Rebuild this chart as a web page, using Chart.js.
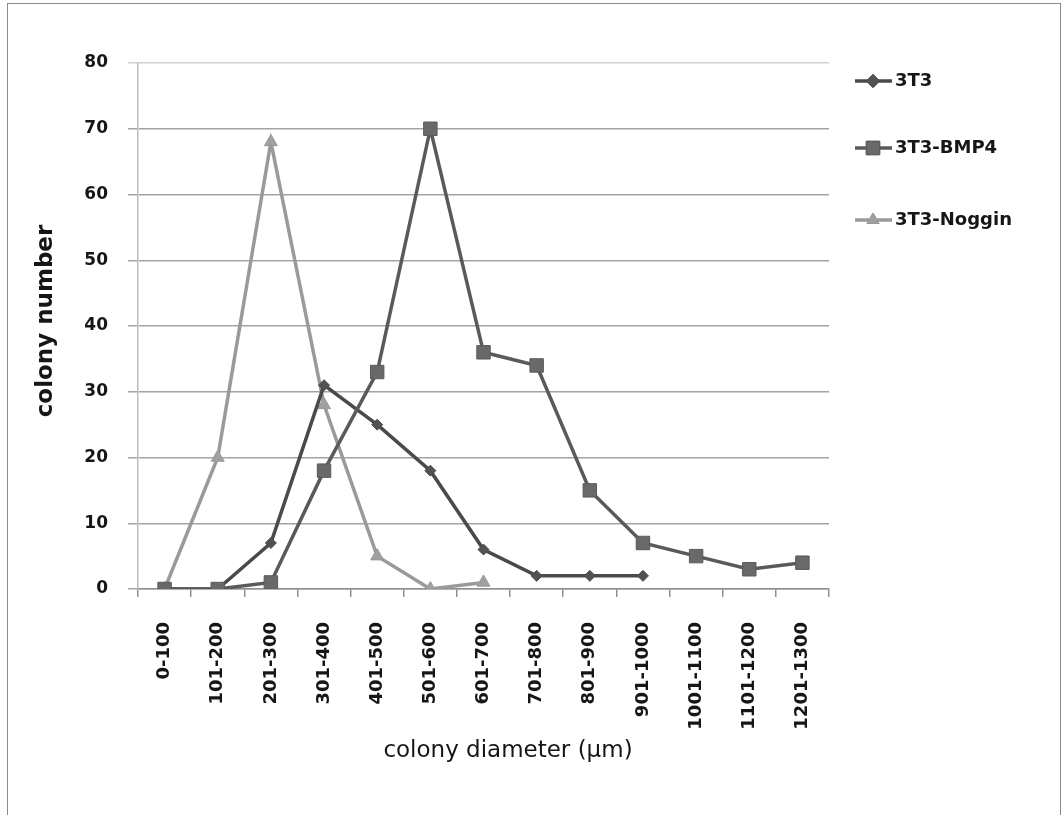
<!DOCTYPE html>
<html>
<head>
<meta charset="utf-8">
<script src="https://cdn.jsdelivr.net/npm/chart.js@4/dist/chart.umd.min.js"></script>
<style>
    html, body { margin: 0; padding: 0; background: #fff; }
    #wrap { position: relative; width: 1061px; height: 815px; }
    #frame {
        position: absolute; left: 7px; top: 3px; width: 1052px; height: 820px;
        border: 1px solid #8a8a8a; border-bottom: none; pointer-events: none;
    }
</style>
</head>
<body>
<div id="wrap">
    <canvas id="chart" width="1061" height="815"></canvas>
    <div id="frame"></div>
</div>
<script>
// DATA
let labels = ["0-100", "101-200", "201-300", "301-400", "401-500", "501-600", "601-700",
    "701-800", "801-900", "901-1000", "1001-1100", "1101-1200", "1201-1300"];
let t3 = [0, 0, 7, 31, 25, 18, 6, 2, 2, 2, null, null, null];
let bmp4 = [0, 0, 1, 18, 33, 70, 36, 34, 15, 7, 5, 3, 4];
let noggin = [0, 20, 68, 28, 5, 0, 1, null, null, null, null, null, null];
let yTicks = [0, 10, 20, 30, 40, 50, 60, 70, 80];

let xTitle = "colony diameter (µm)";
let yTitle = "colony number";

// series looks
let series = [
    { label: "3T3", data: t3, color: "#4a4a4a", fill: "#525252", style: "rectRot", r: 5.5, lr: 6.5, order: 1 },
    { label: "3T3-BMP4", data: bmp4, color: "#5a5a5a", fill: "#696969", style: "rect", r: 9.5, lr: 9.5, order: 0 },
    { label: "3T3-Noggin", data: noggin, color: "#9a9a9a", fill: "#a0a0a0", style: "triangle", r: 7.5, lr: 7, order: 2 }
];

// LEGEND + AXIS TITLES
let extras = {
    id: "extras",
    afterDraw(chart) {
        let ctx = chart.ctx;
        ctx.save();

        // y title
        ctx.fillStyle = "#161616";
        ctx.font = "bold 23px 'DejaVu Sans'";
        ctx.textAlign = "center";
        ctx.textBaseline = "middle";
        ctx.translate(46, 321);
        ctx.rotate(-Math.PI / 2);
        ctx.fillText(yTitle, 0, 0);
        ctx.setTransform(1, 0, 0, 1, 0, 0);

        // x title
        ctx.font = "23px 'DejaVu Sans'";
        ctx.fillText(xTitle, 508, 751);

        // legend
        let ys = [81, 148, 220];
        series.forEach((s, i) => {
            let y = ys[i];
            ctx.strokeStyle = s.color;
            ctx.lineWidth = 3.5;
            ctx.beginPath();
            ctx.moveTo(855, y);
            ctx.lineTo(892, y);
            ctx.stroke();
            ctx.fillStyle = s.fill;
            ctx.lineWidth = 1;
            Chart.helpers.drawPoint(ctx, { pointStyle: s.style, radius: s.lr, rotation: 0, borderWidth: 1 }, 873, y);
            ctx.fill();
            ctx.stroke();
            ctx.fillStyle = "#161616";
            ctx.font = "bold 18px 'DejaVu Sans'";
            ctx.textAlign = "left";
            ctx.fillText(s.label, 895, y);
        });
        ctx.restore();
    }
};

new Chart(document.getElementById("chart"), {
    type: "line",
    data: {
        labels,
        datasets: series.map(s => ({
            label: s.label,
            data: s.data,
            order: s.order,
            borderColor: s.color,
            borderWidth: 3.5,
            backgroundColor: s.fill,
            pointStyle: s.style,
            pointRadius: s.r,
            pointBorderColor: s.color,
            pointBorderWidth: 1,
            tension: 0,
            spanGaps: false
        }))
    },
    options: {
        responsive: false,
        animation: false,
        layout: { padding: { left: 0, top: 63, right: 232, bottom: 0 } },
        plugins: {
            legend: { display: false },
            tooltip: { enabled: false }
        },
        scales: {
            x: {
                offset: true,
                grid: { offset: true, drawOnChartArea: false, drawTicks: true, tickLength: 8, color: "#8f8f8f", lineWidth: 1.5 },
                border: { color: "#8f8f8f", width: 1.5 },
                ticks: {
                    autoSkip: false, minRotation: 90, maxRotation: 90,
                    padding: 25, color: "#161616",
                    font: { family: "DejaVu Sans", size: 18, weight: "bold" }
                },
                afterFit(scale) { scale.height = 226; }
            },
            y: {
                min: 0, max: 80,
                grid: {
                    tickLength: 10,
                    color: ctx => ctx.tick && ctx.tick.value === 80 ? "#cfcfcf" : "#a3a3a3",
                    lineWidth: 1.5
                },
                border: { color: "#bdbdbd", width: 1.5 },
                afterBuildTicks(scale) { scale.ticks = yTicks.map(v => ({ value: v })); },
                ticks: {
                    padding: 20, color: "#161616",
                    font: { family: "DejaVu Sans", size: 17, weight: "bold" }
                },
                afterFit(scale) { scale.width = 138; }
            }
        }
    },
    plugins: [extras]
});
</script>
</body>
</html>
